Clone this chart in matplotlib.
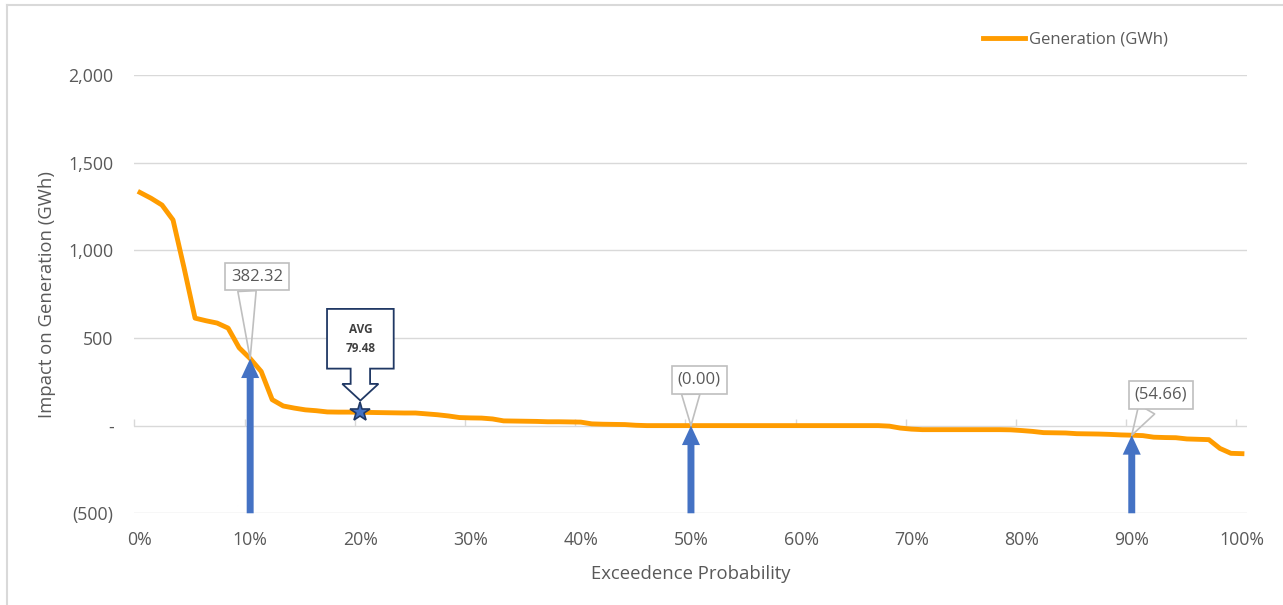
import matplotlib.pyplot as plt
import matplotlib.transforms as mtransforms
import numpy as np
from matplotlib.lines import Line2D
from matplotlib.patches import Polygon

plt.rcParams["font.family"] = ["Open Sans", "DejaVu Sans"]

ORANGE = "#FF9C00"
BLUE = "#4472C4"
NAVY = "#203864"
GRID = "#D9D9D9"
TEXT = "#595959"
LABEL_EDGE = "#BFBFBF"

# exceedance probability in percent, one category per point
exceedance = np.arange(0, 101)
generation = [
    1330, 1297, 1258, 1173, 900, 613, 598, 585, 556, 444,
    382.32, 309, 148, 112, 100, 90, 85, 78, 77, 77,
    76, 75, 74, 73, 72, 72, 67, 62, 55, 46,
    44, 43, 38, 27, 26, 25, 24, 22, 22, 21,
    20, 10, 8, 7, 6, 2, 0, 0, 0, 0,
    -0.001, 0, 0, 0, 0, 0, 0, 0, 0, 0,
    0, 0, 0, 0, 0, 0, 0, 0, -3, -14,
    -20, -23, -23, -23, -23, -23, -23, -23, -23, -24,
    -28, -33, -40, -41, -42, -46, -47, -48, -50, -53,
    -54.66, -57, -66, -68, -69, -76, -78, -80, -130, -158,
    -160,
]

marked_points = [10, 50, 90]
label_offsets = [(5, 59), (6, 33), (21, 29)]
avg_position = 20
avg_value = 79.48

y_ticks = [-500, 0, 500, 1000, 1500, 2000]
y_tick_labels = ["(500)", "-", "500", "1,000", "1,500", "2,000"]
x_ticks = list(range(0, 101, 10))
x_tick_labels = [f"{p}%" for p in x_ticks]


def accounting(value):
    if value < 0:
        return f"({-value:,.2f})"
    return f"{value:,.2f}"


fig = plt.figure(figsize=(12.83, 6.05), dpi=100)
ax = fig.add_axes([0.1048, 0.1516, 0.8675, 0.7245])

for spine in ax.spines.values():
    spine.set_visible(False)
ax.set_yticks(y_ticks, y_tick_labels)
ax.set_xticks(x_ticks, x_tick_labels)
ax.tick_params(axis="both", length=0, labelsize=12.8, labelcolor=TEXT)
ax.tick_params(axis="y", pad=15)
ax.tick_params(axis="x", pad=13)
ax.yaxis.grid(True, color=GRID, lw=1.0)
ax.set_axisbelow(True)

# category tick marks sit between categories on the zero line
ax.plot(np.array(x_ticks) - 0.5, np.zeros(len(x_ticks)), ls="none", marker=2,
        ms=5, mew=1, color=GRID, clip_on=False, zorder=1)

ax.plot(exceedance, generation, color=ORANGE, lw=3.5, solid_joinstyle="round",
        label="Generation (GWh)", zorder=3)

# P10 / P50 / P90 arrows and their value callouts
for p, (dx, dy) in zip(marked_points, label_offsets):
    v = generation[p]
    ax.annotate("", xy=(p, v), xytext=(p, y_ticks[0]),
                arrowprops=dict(arrowstyle="simple,head_length=1.4,head_width=1.3,tail_width=0.5",
                                mutation_scale=10, fc=BLUE, ec="none", shrinkA=0, shrinkB=0),
                zorder=4, annotation_clip=False)
    ax.annotate(accounting(v), xy=(p, v), xytext=(dx, dy), textcoords="offset points",
                ha="center", va="center", fontsize=12, color=TEXT, zorder=5,
                bbox=dict(boxstyle="square,pad=0.35", fc="white", ec=LABEL_EDGE, lw=1.2),
                arrowprops=dict(arrowstyle="wedge,tail_width=1.1,shrink_factor=0.5",
                                fc="none", ec=LABEL_EDGE, lw=1.2, shrinkA=0, shrinkB=0,
                                relpos=(0.3, 0)))

# average marker with a down-arrow callout, outline given in points around the star
callout_outline = [(-24, 74), (24, 74), (24, 31), (7, 31), (7, 20), (13, 20), (0, 8),
                   (-13, 20), (-7, 20), (-7, 31), (-24, 31)]
star_tf = (mtransforms.Affine2D().scale(fig.dpi / 72)
           + mtransforms.ScaledTranslation(avg_position, avg_value, ax.transData))
ax.add_artist(Polygon(callout_outline, closed=True, transform=star_tf, fc="white",
                      ec=NAVY, lw=1.3, zorder=5, clip_on=False))
ax.annotate(f"AVG\n{avg_value:.2f}", xy=(avg_position, avg_value), xytext=(0, 52.5),
            textcoords="offset points", ha="center", va="center", fontsize=8.5,
            fontweight="bold", color="#404040", linespacing=1.6, zorder=6)
ax.plot([avg_position], [avg_value], marker="*", ms=15, mfc=BLUE, mec=NAVY, mew=1.2, zorder=6)

ax.set_xlim(-0.5, 100.5)
ax.set_ylim(-500, 2000)
ax.set_xlabel("Exceedence Probability", fontsize=13.3, color=TEXT, labelpad=11)
ax.set_ylabel("Impact on Generation (GWh)", fontsize=13.3, color=TEXT, labelpad=9)

fig.legend(loc="center left", bbox_to_anchor=(983 / 1283, 1 - 40 / 605), frameon=False,
           fontsize=12, labelcolor=TEXT, handlelength=2.5, handletextpad=0.25,
           borderpad=0, borderaxespad=0)

# chart frame edges
fig.add_artist(Line2D([0.0058, 0.0058], [0, 0.992], color=GRID, lw=1.5, transform=fig.transFigure))
fig.add_artist(Line2D([0.0058, 1], [0.992, 0.992], color=GRID, lw=1.5, transform=fig.transFigure))

fig.savefig("out.png", dpi=100)
